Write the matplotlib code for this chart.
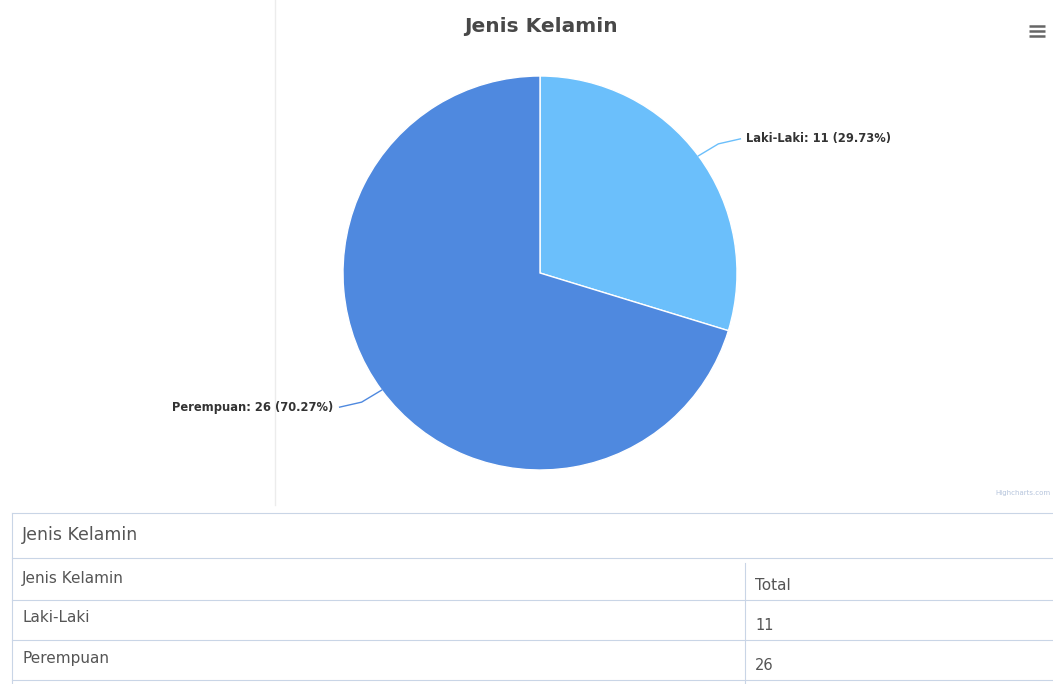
import numpy as np
import matplotlib
matplotlib.use("Agg")
import matplotlib.pyplot as plt

# ---- data ----
title = "Jenis Kelamin"
categories = ["Laki-Laki", "Perempuan"]
values = [11, 26]
colors = ["#6bbffb", "#4f89df"]
table_title = "Jenis Kelamin"
table_header = ["Jenis Kelamin", "Total"]

W, H = 1053, 684
fig = plt.figure(figsize=(W / 100, H / 100), dpi=100)
ax = fig.add_axes([0, 0, 1, 1])

def Y(y):
    return H - y

cx, cy, r = 540, 273, 197
wedges, _ = ax.pie(values, colors=colors, startangle=90, counterclock=False,
                   center=(cx, Y(cy)), radius=r,
                   wedgeprops=dict(edgecolor="white", linewidth=1))
ax.set_xlim(0, W)
ax.set_ylim(0, H)
ax.set_aspect("equal")
ax.axis("off")

# faint vertical separator
ax.plot([275, 275], [Y(0), Y(505)], color="#ececec", lw=1, zorder=0)

# title
ax.text(cx + 1, Y(26), title, ha="center", va="center", fontsize=14.5,
        fontweight="bold", color="#484848")

# hamburger menu
for dy in (-5, 0, 5):
    ax.plot([1029, 1045], [Y(31 + dy), Y(31 + dy)], color="#666666", lw=1.8,
            solid_capstyle="butt")

# data labels with connectors
total = sum(values)
start = 90.0
for cat, v, w in zip(categories, values, wedges):
    ang = start - 360 * v / total / 2
    start -= 360 * v / total
    a = np.deg2rad(ang)
    ex, ey = cx + r * np.cos(a), Y(cy) + r * np.sin(a)
    side = 1 if np.cos(a) >= 0 else -1
    mx, my = ex + side * 20, ey + 12 * np.sign(np.sin(a))
    lx = mx + side * 22
    ly = my + 5 * np.sign(np.sin(a))
    ax.plot([ex, mx, lx], [ey, my, ly], color=w.get_facecolor(), lw=1)
    pct = 100 * v / total
    ax.text(lx + side * 6, ly, f"{cat}: {v} ({pct:.2f}%)",
            ha="left" if side > 0 else "right", va="center",
            fontsize=8.3, fontweight="bold", color="#333333")

# credits
ax.text(1050, Y(493), "Highcharts.com", ha="right", va="center",
        fontsize=5, color="#b5c4dc")

# ---- table ----
lc = "#c9d5e6"
tx0, tx1 = 12, W
rows_y = [513, 558, 600, 640, 680]
for yy in rows_y:
    ax.plot([tx0, tx1], [Y(yy), Y(yy)], color=lc, lw=0.8)
ax.plot([tx0, tx0], [Y(513), Y(684)], color=lc, lw=0.8)
ax.plot([745, 745], [Y(563), Y(684)], color=lc, lw=0.8)

tc = "#555555"
ax.text(22, Y(535), table_title, ha="left", va="center", fontsize=12.5, color=tc)
ax.text(22, Y(578), table_header[0], ha="left", va="center", fontsize=11, color=tc)
ax.text(755, Y(585), table_header[1], ha="left", va="center", fontsize=11, color=tc)
for i, (cat, v) in enumerate(zip(categories, values)):
    yrow = 618 + 41 * i
    ax.text(22, Y(yrow), cat, ha="left", va="center", fontsize=11, color=tc)
    ax.text(755, Y(yrow + 7), str(v), ha="left", va="center", fontsize=10.5, color=tc)

fig.savefig("out.png", dpi=100, facecolor="white")
